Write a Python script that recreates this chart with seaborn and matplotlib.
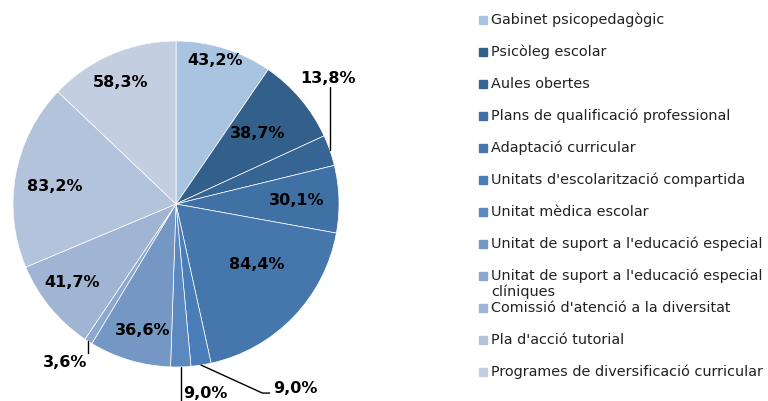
import numpy as np
import matplotlib
matplotlib.use("Agg")
import matplotlib.pyplot as plt
from matplotlib.patches import Rectangle
import seaborn as sns

categories = [
    "Gabinet psicopedagògic",
    "Psicòleg escolar",
    "Aules obertes",
    "Plans de qualificació professional",
    "Adaptació curricular",
    "Unitats d'escolarització compartida",
    "Unitat mèdica escolar",
    "Unitat de suport a l'educació especial",
    "Unitat de suport a l'educació especial\nclíniques",
    "Comissió d'atenció a la diversitat",
    "Pla d'acció tutorial",
    "Programes de diversificació curricular",
]
values = [43.2, 38.7, 13.8, 30.1, 84.4, 9.0, 9.0, 36.6, 3.6, 41.7, 83.2, 58.3]
value_labels = ["43,2%", "38,7%", "13,8%", "30,1%", "84,4%", "9,0%", "9,0%",
                "36,6%", "3,6%", "41,7%", "83,2%", "58,3%"]

colors = ["#A9C4E0", "#33608A", "#376593", "#3F71A4", "#4577AD", "#4A7EB8",
          "#5A88BF", "#7597C4", "#8CA8CF", "#A0B4D3", "#B3C3DB", "#C3CEE0"]

sns.set_style("white")
plt.rcParams["font.family"] = ["DejaVu Sans"]

W, H = 768, 401
cx, cy, R = 176, 204, 163

fig = plt.figure(figsize=(W / 100, H / 100), dpi=100)
ax = fig.add_axes([0, 0, 1, 1])

wedges, _ = ax.pie(values, colors=colors, startangle=90, counterclock=False,
                   wedgeprops=dict(edgecolor="white", linewidth=0.5))
ax.set_xlim(-cx / R, (W - cx) / R)
ax.set_ylim(-(H - cy) / R, cy / R)
ax.set_aspect("auto")
ax.axis("off")

# inside labels: (radius fraction, angle shift)
inside = {0: (0.91, 2), 1: (0.66, 0.7), 3: (0.74, 0), 4: (0.62, 7.4),
          7: (0.80, 1.8), 9: (0.80, -2.4), 10: (0.75, 1.9), 11: (0.82, 1.4)}
lab_kw = dict(fontsize=11.5, fontweight="bold", color="black")

for i, w in enumerate(wedges):
    mid = np.deg2rad((w.theta1 + w.theta2) / 2)
    ex, ey = np.cos(mid), np.sin(mid)
    if i in inside:
        r, sh = inside[i]
        a = mid + np.deg2rad(sh)
        ax.text(r * np.cos(a), r * np.sin(a), value_labels[i],
                ha="center", va="center", **lab_kw)
    elif i == 2:
        ax.plot([ex, ex], [ey, 0.715], color="black", lw=1)
        ax.text(0.933, 0.767, value_labels[i], ha="center", va="center", **lab_kw)
    elif i == 5:
        ax.plot([ex, 0.53, 0.575], [ey, -1.16, -1.16], color="black", lw=1)
        ax.text(0.595, -1.13, value_labels[i], ha="left", va="center", **lab_kw)
    elif i == 6:
        ax.plot([ex, ex], [ey, -1.3], color="black", lw=1, clip_on=False)
        ax.text(0.045, -1.16, value_labels[i], ha="left", va="center",
                clip_on=False, **lab_kw)
    elif i == 8:
        ax.plot([ex, ex], [ey, -0.915], color="black", lw=1)
        ax.text(-0.68, -0.97, value_labels[i], ha="center", va="center", **lab_kw)

# legend
row_y = 20
for i, cat in enumerate(categories):
    py = row_y + 32 * i
    fig.patches.append(Rectangle((479 / W, 1 - (py + 4) / H), 8 / W, 8 / H,
                                 transform=fig.transFigure, color=colors[i]))
    lines = cat.split("\n")
    for j, line in enumerate(lines):
        fig.text(491 / W, 1 - (py + 16 * j) / H, line, ha="left", va="center",
                 fontsize=10.4, color="#222222")

fig.savefig("out.png", dpi=100)
